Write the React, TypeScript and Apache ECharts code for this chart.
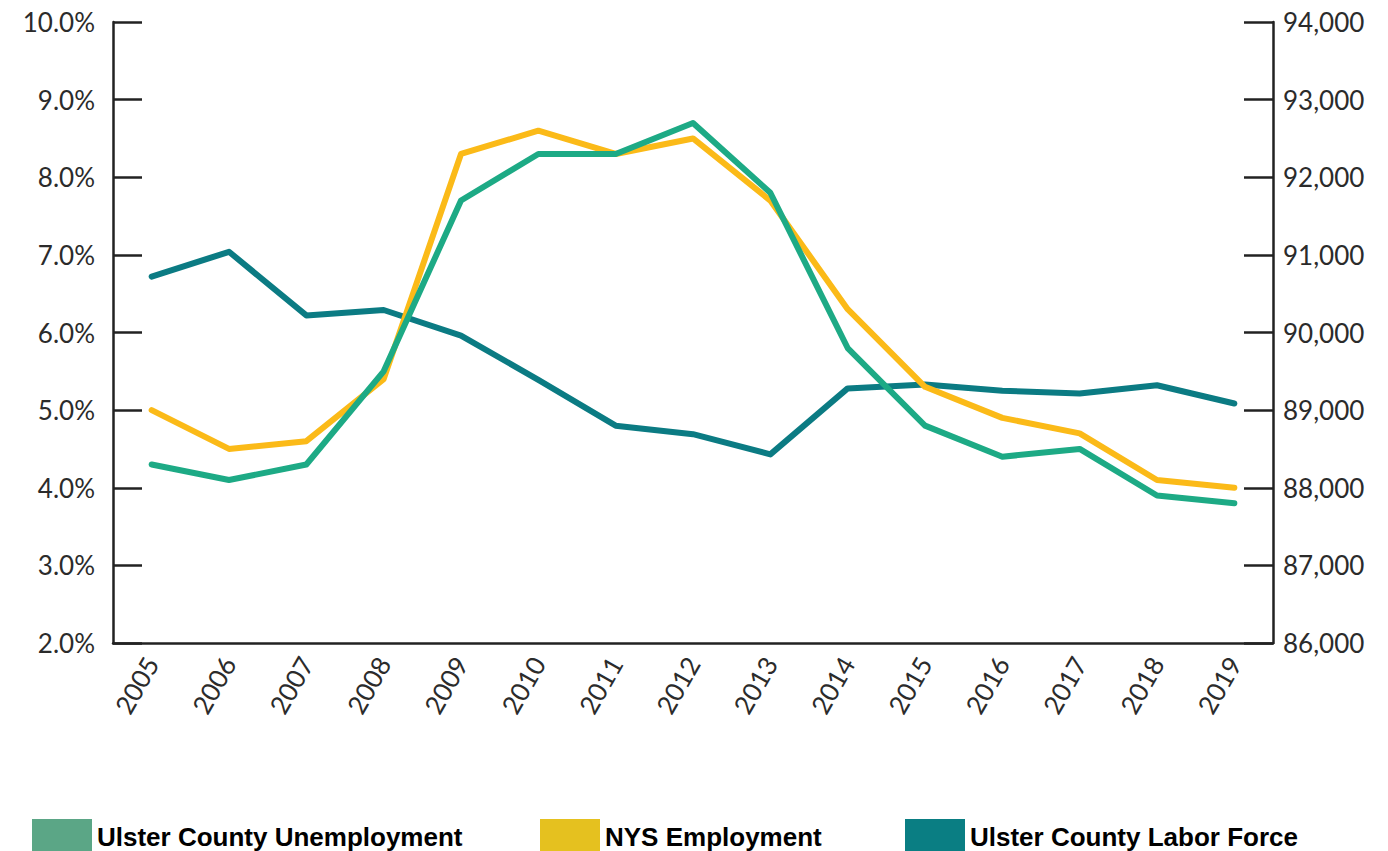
import React, { useEffect, useRef } from "react";
import * as echarts from "echarts";

const years = ["2005","2006","2007","2008","2009","2010","2011","2012","2013","2014","2015","2016","2017","2018","2019"];
const ulsterUnemployment = [4.3, 4.1, 4.3, 5.5, 7.7, 8.3, 8.3, 8.7, 7.8, 5.8, 4.8, 4.4, 4.5, 3.9, 3.8];
const nysEmployment = [5.0, 4.5, 4.6, 5.4, 8.3, 8.6, 8.3, 8.5, 7.7, 6.3, 5.3, 4.9, 4.7, 4.1, 4.0];
const ulsterLaborForce = [90720, 91040, 90220, 90290, 89960, 89390, 88800, 88690, 88430, 89280, 89330, 89250, 89215, 89320, 89085];

const seriesNames = ["Ulster County Unemployment", "NYS Employment", "Ulster County Labor Force"];
const lineColors = ["#1DAA85", "#FBBA18", "#0B7B83"];
const legendColors = ["#5BA686", "#E5C11F", "#0A7E83"];

export default function App() {
  const ref = useRef<HTMLDivElement>(null);
  useEffect(() => {
    if (!ref.current) return;
    const chart = echarts.init(ref.current, undefined, { renderer: "svg" });
    const axisFont = { fontFamily: "Lato, 'Noto Sans', sans-serif", fontSize: 26, color: "#2b2b2b" };
    const legendText = { fontFamily: "'Liberation Sans', sans-serif", fontWeight: "bold" as const, fontSize: 26, color: "#000" };
    const legendPos = [32, 540, 905];
    chart.setOption({
      animation: false,
      backgroundColor: "#fff",
      grid: { left: 113, right: 115, top: 22, bottom: 208 },
      legend: seriesNames.map((n, i) => ({
        left: legendPos[i],
        top: 819,
        padding: 0,
        icon: "rect",
        itemWidth: 60,
        itemHeight: 36,
        itemGap: 0,
        textStyle: legendText,
        data: [{ name: n, itemStyle: { color: legendColors[i] } }],
      })),
      xAxis: {
        type: "category",
        data: years,
        boundaryGap: true,
        axisLine: { lineStyle: { color: "#222", width: 2.5 } },
        axisTick: { inside: true, length: 15, lineStyle: { color: "#222", width: 2.5 } },
        axisLabel: { ...axisFont, fontSize: 26, rotate: 60, margin: 16 },
        splitLine: { show: false },
      },
      yAxis: [
        {
          type: "value",
          min: 2,
          max: 10,
          interval: 1,
          axisLine: { show: true, lineStyle: { color: "#222", width: 2.5 } },
          axisTick: { show: true, inside: true, length: 29, lineStyle: { color: "#222", width: 2.5 } },
          axisLabel: { ...axisFont, margin: 18, formatter: (v: number) => v.toFixed(1) + "%" },
          splitLine: { show: false },
        },
        {
          type: "value",
          min: 86000,
          max: 94000,
          interval: 1000,
          position: "right",
          axisLine: { show: true, lineStyle: { color: "#222", width: 2.5 } },
          axisTick: { show: true, inside: true, length: 29, lineStyle: { color: "#222", width: 2.5 } },
          axisLabel: { ...axisFont, margin: 10, formatter: (v: number) => v.toLocaleString("en-US") },
          splitLine: { show: false },
        },
      ],
      series: [
        {
          name: seriesNames[2],
          type: "line",
          yAxisIndex: 1,
          data: ulsterLaborForce,
          symbol: "none",
          color: lineColors[2],
          lineStyle: { width: 6, color: lineColors[2], cap: "round", join: "round" },
        },
        {
          name: seriesNames[1],
          type: "line",
          yAxisIndex: 0,
          data: nysEmployment,
          symbol: "none",
          color: lineColors[1],
          lineStyle: { width: 6, color: lineColors[1], cap: "round", join: "round" },
        },
        {
          name: seriesNames[0],
          type: "line",
          yAxisIndex: 0,
          data: ulsterUnemployment,
          symbol: "none",
          color: lineColors[0],
          lineStyle: { width: 6, color: lineColors[0], cap: "round", join: "round" },
        },
      ],
    });
    return () => chart.dispose();
  }, []);
  return <div ref={ref} style={{ position: "fixed", left: 0, top: 0, width: 1388, height: 851 }} />;
}
